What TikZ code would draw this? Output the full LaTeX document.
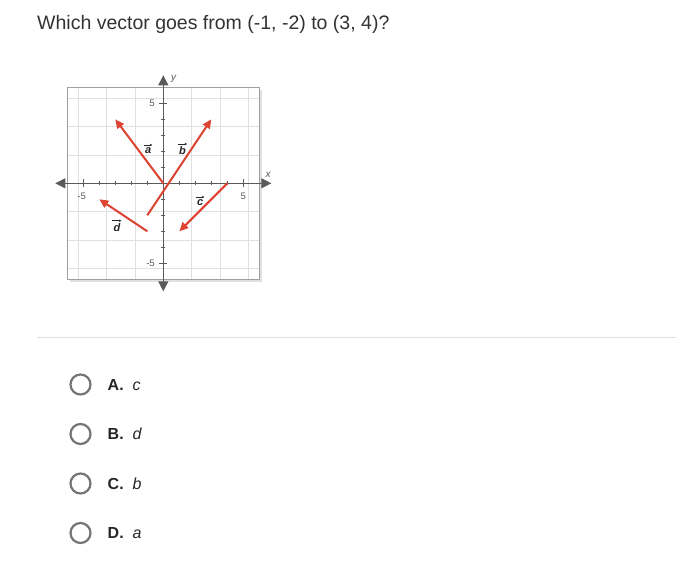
\documentclass[tikz,border=0pt]{standalone}
\usepackage{fontspec}
\setmainfont{Liberation Sans}
\usetikzlibrary{arrows.meta}
\definecolor{vred}{RGB}{222,66,48}
\definecolor{axgray}{RGB}{90,90,90}
\definecolor{gridgray}{RGB}{224,224,224}
\definecolor{boxgray}{RGB}{160,160,160}
\definecolor{qtext}{RGB}{51,51,51}
\definecolor{radiogray}{RGB}{117,117,117}
\tikzset{
  vecline/.style={vred, line width=2pt, -{Triangle[length=9pt,width=8pt]}},
  axisline/.style={axgray, line width=1.2pt},
  ticklab/.style={font=\fontsize{9.5}{10}\selectfont, text=axgray, inner sep=0pt},
  veclab/.style={font=\fontsize{11}{12}\selectfont\bfseries\itshape, text=black!85, inner sep=0.5pt},
  vecarrow/.style={black!85, line width=0.6pt, -{Stealth[length=2.5pt,width=2.5pt]}},
  radio/.style={circle, draw=radiogray, line width=2.2pt, minimum size=20pt, inner sep=0pt},
  optlab/.style={font=\fontsize{16}{18}\selectfont, text=black!85, anchor=base west, inner sep=0pt},
}
\begin{document}
\begin{tikzpicture}[x=1pt,y=-1pt]
\path[use as bounding box, fill=white] (0,0) rectangle (676,565);
\node[anchor=base west, inner sep=0pt, text=qtext, font=\fontsize{19.5}{22}\selectfont] (q) at (37,29) {Which vector goes from (-1, -2) to (3, 4)?};
\draw[gridgray, line width=0.8pt] (37,337.5) -- (676,337.5);
\begin{scope}[shift={(163.3,183.3)}, x=16pt, y=16pt]
  % shadow
  \fill[black!12] (-5.85,-6.15) rectangle (6.15,5.85);
  \fill[white] (-6,-6) rectangle (6,6);
  \draw[gridgray, line width=0.6pt] (-6,-6) grid (6,6);
  \draw[boxgray, line width=1.5pt] (-6,-6) rectangle (6,6);
  % axes
  \draw[axisline, {Triangle[length=10pt,width=10pt]}-{Triangle[length=10pt,width=10pt]}] (-6.75,0) coordinate (xl) -- (6.75,0) coordinate (xr);
  \draw[axisline, {Triangle[length=10pt,width=10pt]}-{Triangle[length=10pt,width=10pt]}] (0,-6.75) coordinate (yb) -- (0,6.75) coordinate (yt);
  \foreach \i in {-5,...,5} {
    \draw[axgray, line width=0.5pt] (\i,-0.12) -- (\i,0.12);
    \draw[axgray, line width=0.5pt] (-0.12,\i) -- (0.12,\i);
  }
  \draw[axgray, line width=0.6pt] (-5,-0.25) -- (-5,0.25);
  \draw[axgray, line width=0.6pt] (5,-0.25) -- (5,0.25);
  \draw[axgray, line width=0.6pt] (-0.25,5) -- (0.25,5);
  \draw[axgray, line width=0.6pt] (-0.25,-5) -- (0.25,-5);
  \node[ticklab] (xm5) at (-5.1,-0.8) {-5};
  \node[ticklab] (xp5) at (5,-0.8) {5};
  \node[ticklab] (yp5) at (-0.7,5) {5};
  \node[ticklab] (ym5) at (-0.8,-5) {-5};
  \node[font=\fontsize{10}{11}\selectfont\itshape, text=axgray, inner sep=0pt] (xlab) at (6.55,0.5) {x};
  \node[font=\fontsize{10}{11}\selectfont\itshape, text=axgray, inner sep=0pt] (ylab) at (0.65,6.5) {y};
  % vectors
  \coordinate (a0) at (0,0);   \coordinate (a1) at (-3,4);
  \coordinate (b0) at (-1,-2); \coordinate (b1) at (3,4);
  \coordinate (c0) at (4,0);   \coordinate (c1) at (1,-3);
  \coordinate (d0) at (-1,-3); \coordinate (d1) at (-4,-1);
  \draw[vecline] (a0) -- (a1);
  \draw[vecline] (b0) -- (b1);
  \draw[vecline] (c0) -- (c1);
  \draw[vecline] (d0) -- (d1);
  \foreach \n/\t/\p in {la/a/{(-0.95,2.05)}, lb/b/{(1.2,2.05)}, lc/c/{(2.3,-1.2)}, ld/d/{(-2.9,-2.75)}} {
    \node[veclab] (\n) at \p {\t};
    \draw[vecarrow] ([xshift=-0.5pt,yshift=1.8pt]\n.north west) -- ([xshift=0.5pt,yshift=1.8pt]\n.north east);
  }
\end{scope}
% options
\foreach \y/\L/\v [count=\k] in {384.5/A/c, 434/B/d, 483.5/C/b, 533/D/a} {
  \node[radio] (r\k) at (80.5,\y) {};
  \node[optlab] (o\k) at (107.5,\y+5.8) {\textbf{\L.}\hspace{9pt}\textit{\v}};
}
\end{tikzpicture}
\end{document}
